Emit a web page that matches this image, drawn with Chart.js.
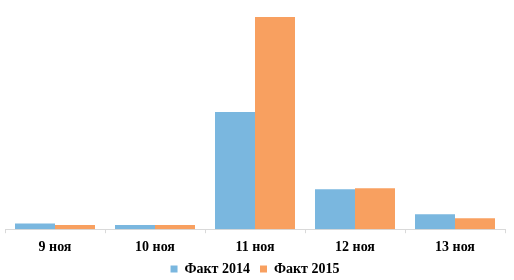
<!DOCTYPE html>
<html>
<head>
<meta charset="utf-8">
<script src="https://cdn.jsdelivr.net/npm/chart.js@4"></script>
<style>
  html, body { margin: 0; padding: 0; background: #fff; }
  #wrap { width: 514px; height: 280px; }
</style>
</head>
<body>
<div id="wrap"><canvas id="chart"></canvas></div>
<script>
// Данные графика
const days = ['9 ноя', '10 ноя', '11 ноя', '12 ноя', '13 ноя'];
const fact2014 = [57, 43, 1170, 400, 150];
const fact2015 = [43, 43, 2120, 410, 110];

const ctx = document.getElementById('chart').getContext('2d');
new Chart(ctx, {
    type: 'bar',
    data: {
        labels: days,
        datasets: [{
            label: 'Факт 2014',
            data: fact2014,
            backgroundColor: '#7ab7df'
        }, {
            label: 'Факт 2015',
            data: fact2015,
            backgroundColor: '#f8a060'
        }]
    },
    options: {
        responsive: true,
        maintainAspectRatio: false,
        animation: false,
        datasets: {
            bar: { categoryPercentage: 0.8, barPercentage: 1.0 }
        },
        layout: { padding: { left: 5, right: 9, top: 0, bottom: -6 } },
        plugins: {
            legend: {
                position: 'bottom',
                labels: {
                    boxWidth: 7,
                    boxHeight: 7,
                    padding: 10,
                    color: '#000',
                    font: { family: 'Liberation Serif', size: 14, weight: 'bold' }
                }
            },
            tooltip: { enabled: false }
        },
        scales: {
            x: {
                grid: {
                    display: true,
                    drawOnChartArea: false,
                    drawTicks: true,
                    tickLength: 4,
                    color: '#d9d9d9'
                },
                border: { display: true, color: '#d9d9d9' },
                ticks: {
                    color: '#000',
                    padding: 6,
                    font: { family: 'Liberation Serif', size: 14, weight: 'bold' }
                },
                // убираем лишнее место под подписями
                afterFit: function(scale) {
                    scale.height -= 10;
                }
            },
            y: {
                display: false,
                min: 0,
                max: 2290
            }
        }
    }
});
</script>
</body>
</html>
